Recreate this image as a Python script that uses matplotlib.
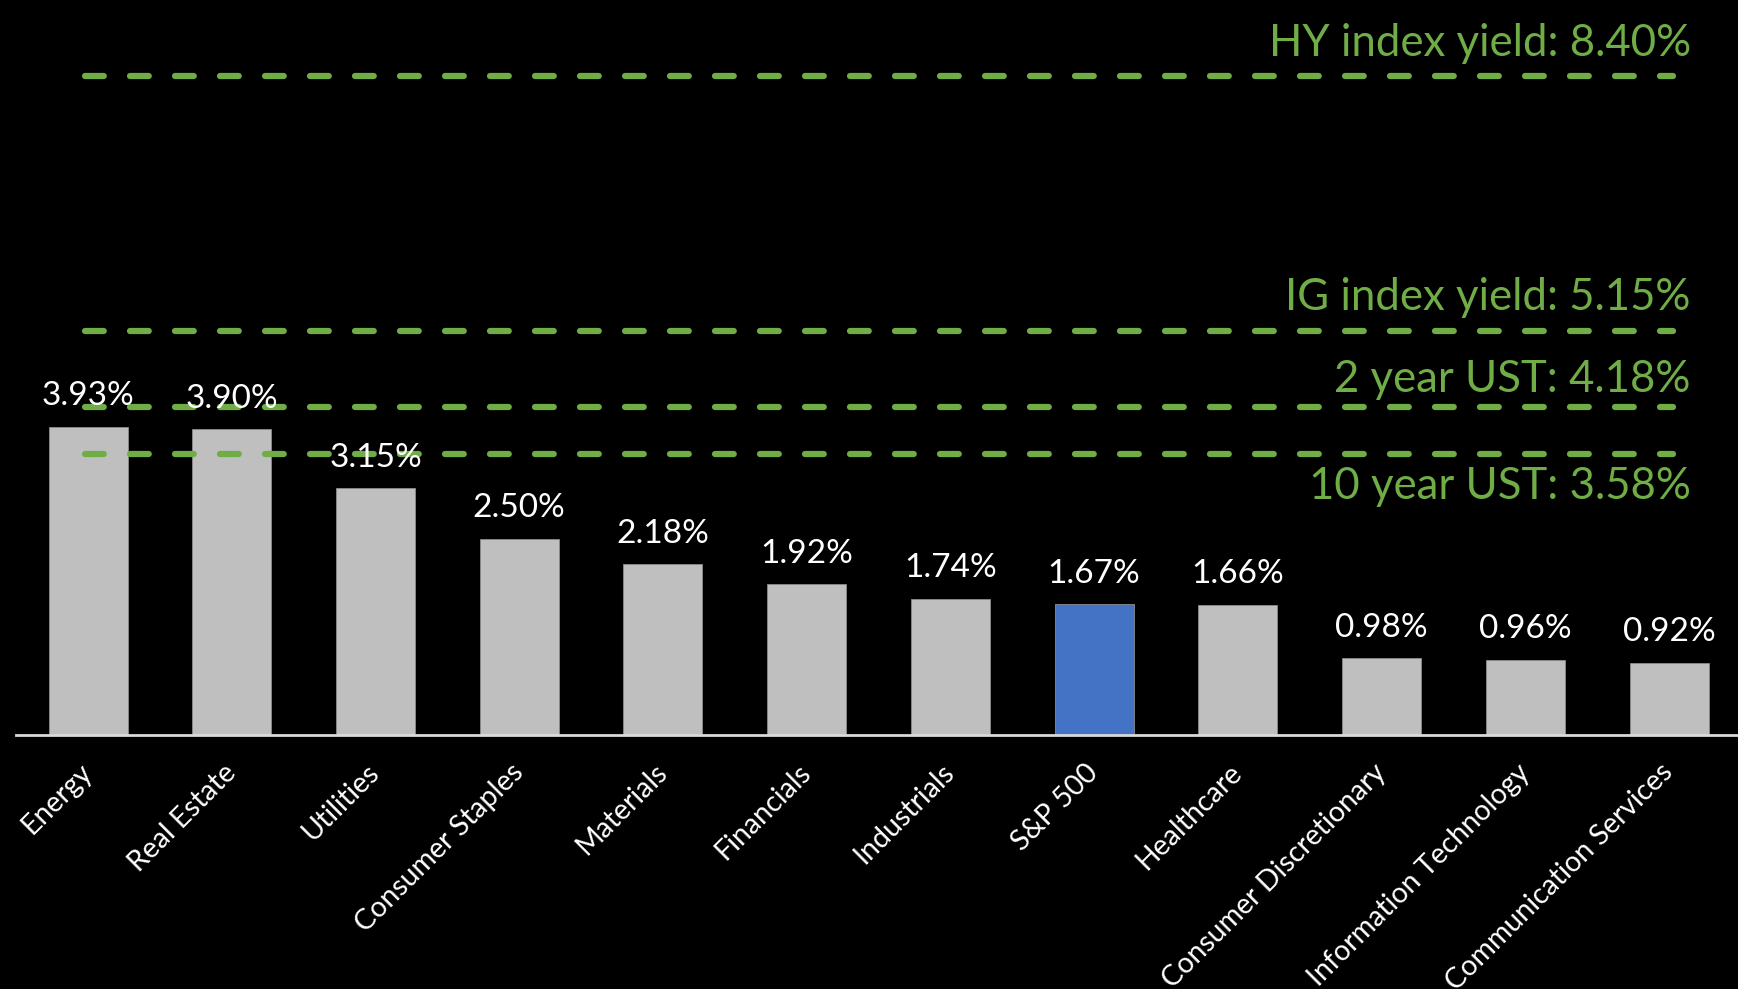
import matplotlib.pyplot as plt
import numpy as np

plt.rcParams['font.family'] = ['Lato', 'DejaVu Sans']

sectors = ['Energy', 'Real Estate', 'Utilities', 'Consumer Staples', 'Materials',
           'Financials', 'Industrials', 'S&P 500', 'Healthcare',
           'Consumer Discretionary', 'Information Technology', 'Communication Services']
div_yield = [3.93, 3.90, 3.15, 2.50, 2.18, 1.92, 1.74, 1.67, 1.66, 0.98, 0.96, 0.92]

ref_names = ['HY index yield', 'IG index yield', '2 year UST', '10 year UST']
ref_yield = [8.40, 5.15, 4.18, 3.58]

GRAY = '#BFBFBF'
BLUE = '#4472C4'
GREEN = '#70AD47'

fig = plt.figure(figsize=(17.38, 9.89), dpi=100, facecolor='black')
ax = fig.add_axes([0.0093, 0.2568, 0.9924, 0.7432])
ax.set_facecolor('black')

x = np.arange(len(sectors))
colors = [BLUE if s == 'S&P 500' else GRAY for s in sectors]
ax.bar(x, div_yield, width=0.55, color=colors, edgecolor='#8C8C8C', linewidth=0.6, zorder=2)

for xi, v in zip(x, div_yield):
    ax.annotate(f'{v:.2f}%', (xi, v), xytext=(0, 22), textcoords='offset points',
                ha='center', va='center', color='white', fontsize=24, zorder=5)

# benchmark yields: dashed lines with their labels
label_off = [24, 24, 20, -23]
for name, v, off in zip(ref_names, ref_yield, label_off):
    ax.plot([-0.02, 11.03], [v, v], color=GREEN, lw=4.5, ls=(0, (3.0, 4.2)),
            dash_capstyle='round', zorder=3)
    ax.annotate(f'{name}: {v:.2f}%', (11.15, v), xytext=(0, off), textcoords='offset points',
                ha='right', va='center', color=GREEN, fontsize=31.5, zorder=4)

ax.set_xlim(-0.5, 11.5)
ax.set_ylim(0, 9.375)
ax.set_yticks([])
ax.set_xticks(x)
ax.set_xticklabels(sectors, rotation=45, ha='right', va='center', rotation_mode='anchor',
                   color='white', fontsize=20.5)
ax.tick_params(axis='x', length=0, pad=24)
for side in ['left', 'right', 'top']:
    ax.spines[side].set_visible(False)
ax.spines['bottom'].set_color('#D9D9D9')
ax.spines['bottom'].set_linewidth(2)

fig.savefig('out.png', dpi=100, facecolor='black')
